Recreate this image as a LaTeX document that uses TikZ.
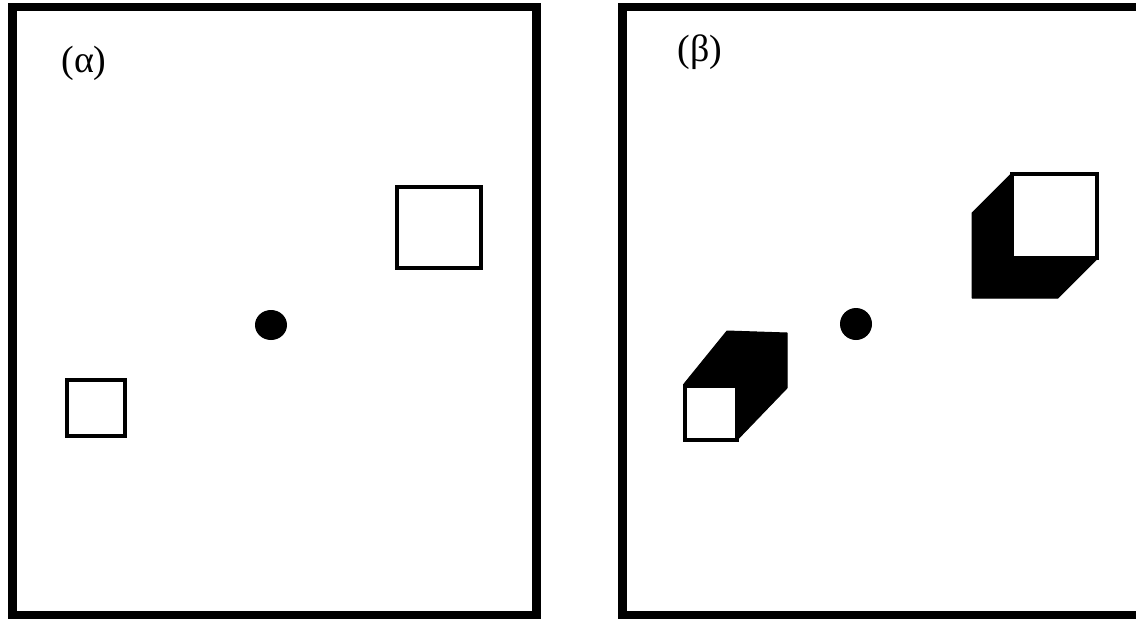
\documentclass[tikz,border=0pt]{standalone}
\usepackage{fontspec}
\setmainfont{Liberation Serif}
\begin{document}
\begin{tikzpicture}[x=1pt,y=-1pt,
  panel/.style={draw=black,line width=8.5pt},
  box/.style={draw=black,line width=4pt,fill=white},
  shade/.style={fill=black,draw=black,line width=1pt,line join=round},
  dot/.style={fill=black},
  lbl/.style={font=\fontsize{38}{40}\selectfont,inner sep=0pt}]
\useasboundingbox (0,0) rectangle (1136,619);
\clip (0,0) rectangle (1136,619);
% panels
\draw[panel] (12.5,7) rectangle (536.5,615);
\draw[panel] (622.5,7) rectangle (1150,615);
% labels
\node[lbl] (la) at (84,63) {(α)};
\node[lbl] (lb) at (700,52) {(β)};
% left panel
\draw[box] (397,187) rectangle (481,268);
\draw[box] (67,380) rectangle (125,436);
\fill[dot] (271,325) ellipse (16 and 15);
% right panel
\fill[dot] (856,324) ellipse (16 and 16);
% upper cube
\filldraw[shade] (1012,173) -- (972,213) -- (972,298) -- (1058,298) -- (1098,258) -- (1012,258) -- cycle;
\draw[box,line width=3.5pt] (1012,174) rectangle (1097,258);
% lower cube
\filldraw[shade] (684,384) -- (727,331) -- (787,333) -- (787,388) -- (737,440) -- (737,384) -- cycle;
\draw[box,line width=3.5pt] (685,386) rectangle (737,440);
\end{tikzpicture}
\end{document}
